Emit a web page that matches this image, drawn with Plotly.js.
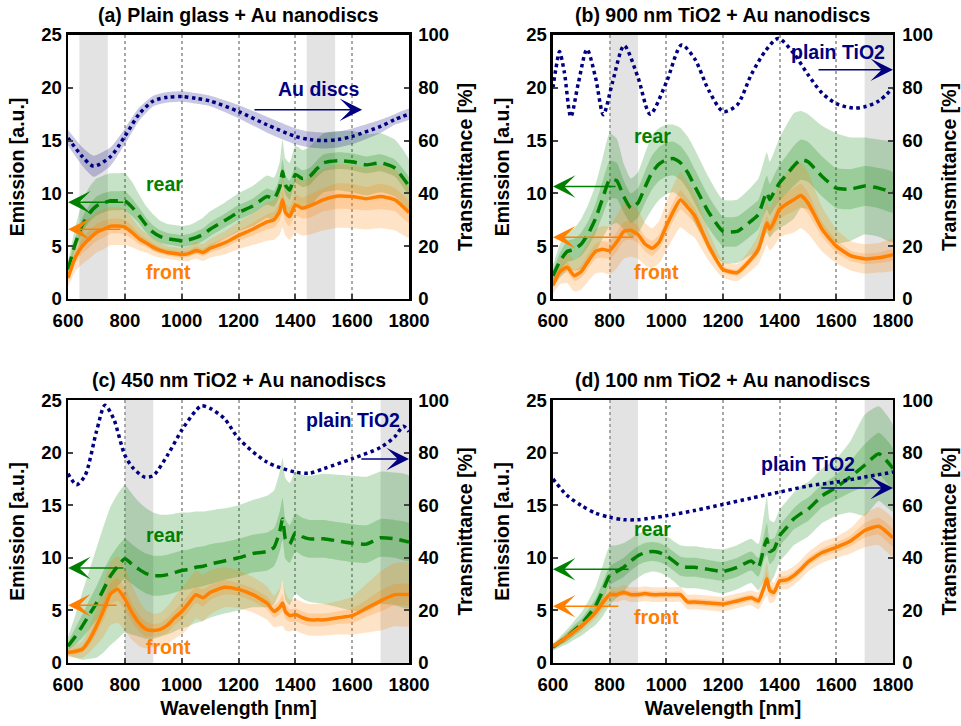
<!DOCTYPE html>
<html>
<head>
<meta charset="utf-8">
<script src="https://cdn.plot.ly/plotly-3.0.1.min.js"></script>
<style>html,body{margin:0;padding:0;background:#fff;}#chart{width:961px;height:726px;}</style>
</head>
<body>
<div id="chart"></div>
<script>
// ---------- shared wavelength grid for emission curves (nm) ----------
const wl = [600,625,650,675,700,725,750,775,800,825,850,875,900,925,950,975,1000,1025,1050,1075,1100,
            1150,1200,1250,1300,1325,1345,1355,1365,1380,1400,1425,1450,1475,1500,1550,1600,1650,1700,1750,1800];
const xTicks = [600,800,1000,1200,1400,1600,1800];

// ---------- (a) Plain glass + Au nanodiscs ----------
const aRear     = [2.8,5.2,7.0,8.1,8.8,9.1,9.3,9.3,9.3,8.7,7.9,7.0,6.3,5.9,5.7,5.6,5.5,5.6,5.8,6.1,6.6,7.4,8.2,8.8,9.7,9.5,10.6,12.1,10.8,10.3,11.8,11.4,11.6,12.3,12.9,13.1,13.0,12.7,12.9,12.4,10.7];
const aRearIn   = [0.3,0.5,0.7,0.8,0.9,0.9,0.9,0.9,0.9,0.85,0.75,0.7,0.65,0.6,0.55,0.55,0.55,0.55,0.6,0.6,0.65,0.65,0.7,0.7,0.75,0.75,0.9,1.1,0.9,0.9,0.8,0.8,0.8,0.8,0.8,0.8,0.8,0.8,0.8,0.8,0.8];
const aRearOut  = [0.8,1.5,2.2,2.5,2.6,2.6,2.6,2.6,2.6,2.4,2.0,1.8,1.7,1.5,1.4,1.4,1.4,1.4,1.5,1.6,1.7,1.7,1.8,1.9,2.0,2.0,2.4,3.0,2.5,2.6,2.7,2.7,2.8,2.8,2.8,2.8,2.9,2.9,2.8,2.7,2.5];
const aFront    = [2.0,3.9,5.0,5.7,6.3,6.6,6.9,6.9,6.8,6.3,5.7,5.3,4.9,4.6,4.4,4.3,4.2,4.3,4.6,4.4,4.8,5.3,6.0,6.6,7.3,7.5,8.3,9.4,8.2,7.8,8.9,8.6,8.8,9.1,9.4,9.75,9.7,9.5,9.7,9.4,8.2];
const aFrontIn  = [0.3,0.5,0.7,0.8,0.8,0.8,0.7,0.7,0.7,0.6,0.5,0.4,0.35,0.3,0.3,0.3,0.3,0.3,0.35,0.35,0.4,0.45,0.5,0.6,0.7,0.75,0.9,1.0,0.9,0.9,1.0,1.0,1.1,1.1,1.1,1.2,1.2,1.1,1.2,1.1,1.0];
const aFrontOut = [0.8,1.3,1.7,1.9,1.9,1.9,1.8,1.8,1.7,1.4,1.1,0.9,0.8,0.7,0.6,0.6,0.6,0.7,0.8,0.8,0.9,1.1,1.3,1.5,1.8,1.9,2.2,2.6,2.2,2.2,2.6,2.6,2.7,2.8,2.9,3.0,3.0,2.9,3.0,2.9,2.4];
const aTransWl  = [600,650,690,750,800,850,900,950,1000,1050,1100,1200,1300,1400,1450,1500,1550,1600,1700,1750,1800];
const aTrans    = [61,54,50.3,54,61.6,70,75,76.4,76.7,76,75,71,66,61.6,60.4,60,60.4,61.6,65.4,68,70];
const aTransSd  = [3,3.5,4,3.5,3,2.5,2,2,2,2,2,2.5,3,3,3,3,3,3,2.5,2,2];
const aShade    = [[640,740],[1440,1540]];

// ---------- (b) 900 nm TiO2 + Au nanodiscs ----------
const bRear     = [2.2,3.6,4.5,4.7,5.2,6.2,7.6,9.5,11.3,11.2,9.7,8.6,9.1,10.6,12.0,12.8,13.2,13.3,12.9,12.0,10.7,8.2,6.4,6.4,7.4,8.0,9.5,10.1,9.4,10.1,11.0,11.8,12.6,13.2,13.0,11.6,10.5,10.4,10.7,10.5,10.1];
const bRearIn   = [0.5,0.8,1.0,1.0,1.1,1.2,1.4,1.6,1.8,1.7,1.5,1.4,1.4,1.5,1.6,1.6,1.6,1.6,1.6,1.6,1.6,1.5,1.4,1.4,1.4,1.4,1.5,1.6,1.5,1.6,1.7,1.8,1.9,1.9,1.9,1.9,1.9,1.9,1.9,1.9,1.9];
const bRearOut  = [1.0,1.6,1.8,2.0,2.4,2.8,3.2,3.8,4.4,4.0,3.1,2.8,2.9,3.2,3.5,3.4,3.3,3.2,3.3,3.4,3.5,3.3,3.0,3.0,3.2,3.4,3.6,3.8,3.6,3.8,4.3,4.7,5.0,4.6,4.5,4.8,5.2,4.9,4.6,4.6,4.7];
const bFront    = [1.3,2.6,3.0,2.2,2.6,3.6,4.5,4.7,4.6,5.4,6.4,6.5,6.1,5.2,4.8,5.4,6.9,8.3,9.4,8.7,7.9,5.0,2.8,2.5,3.8,4.7,6.4,7.2,6.6,7.3,8.5,9.0,9.4,9.8,9.1,6.6,5.0,4.1,3.8,3.9,4.2];
const bFrontIn  = [0.3,0.4,0.5,0.5,0.6,0.7,0.7,0.8,0.8,0.9,0.9,0.9,0.8,0.7,0.7,0.7,0.8,0.9,0.9,0.8,0.7,0.5,0.3,0.3,0.4,0.5,0.7,0.7,0.7,0.8,0.9,1.0,1.1,1.1,1.0,0.7,0.6,0.5,0.5,0.5,0.5];
const bFrontOut = [0.8,1.2,1.5,1.5,1.7,1.9,2.1,2.2,2.3,2.5,2.6,2.5,2.3,2.0,1.9,2.0,2.3,2.5,2.6,2.4,2.1,1.4,0.8,0.8,1.1,1.4,1.9,2.1,2.0,2.3,2.7,2.9,3.1,3.1,2.9,2.1,1.6,1.4,1.4,1.4,1.5];
const bTransWl  = [600,610,623,640,663,690,720,750,778,810,851,900,943,1000,1054,1100,1150,1201,1250,1300,1350,1395,1450,1500,1550,1600,1659,1700,1750,1800];
const bTrans    = [80,87,93.7,86,69,82,94.6,84,69.8,82,96,84,70,82,96.2,91,79,71,73.5,85,94,98.7,93,85,78,74,72.3,72.8,75,79.9];
const bShade    = [[800,900],[1700,1800]];

// ---------- (c) 450 nm TiO2 + Au nanodiscs ----------
const cRear     = [1.6,2.5,3.5,4.6,5.7,7.0,8.3,9.2,9.9,9.4,8.9,8.5,8.3,8.3,8.4,8.6,8.8,8.9,9.1,9.2,9.4,9.7,10.0,10.4,10.6,11.0,12.5,13.7,11.8,11.3,12.4,12.0,11.8,11.8,11.8,11.6,11.4,11.3,11.9,11.8,11.5];
const cRearIn   = [0.4,0.8,1.1,1.4,1.6,1.8,1.8,1.9,1.9,1.9,1.9,1.9,1.9,1.9,1.9,1.9,1.9,1.9,1.9,1.9,1.9,1.8,1.8,1.8,1.8,1.8,1.9,2.0,1.9,1.8,1.8,1.8,1.8,1.8,1.8,1.8,1.8,1.8,1.8,1.8,1.8];
const cRearOut  = [0.9,2.0,3.2,4.2,5.2,6.0,6.6,6.9,7.0,6.7,6.4,6.2,6.0,5.8,5.7,5.6,5.5,5.4,5.3,5.2,5.1,5.0,5.0,5.1,5.3,5.4,5.7,5.8,5.8,5.8,5.8,5.9,6.0,6.1,6.2,6.3,6.4,6.4,6.3,6.3,6.3];
const cFront    = [1.0,1.1,1.3,2.2,3.5,5.0,6.6,7.0,6.1,4.8,3.8,3.2,3.1,3.2,3.6,4.3,4.9,5.7,6.5,6.2,6.7,7.2,7.0,6.5,5.7,4.9,5.3,5.7,4.9,4.5,4.6,4.3,4.1,4.1,4.1,4.3,4.5,5.2,5.9,6.5,6.5];
const cFrontIn  = [0.2,0.3,0.3,0.5,0.7,0.9,1.0,1.1,1.0,0.9,0.8,0.7,0.6,0.6,0.7,0.7,0.8,0.8,0.8,0.8,0.7,0.7,0.6,0.6,0.6,0.6,0.7,0.8,0.7,0.6,0.6,0.6,0.6,0.6,0.6,0.6,0.7,0.8,1.0,1.0,1.0];
const cFrontOut = [0.4,0.6,0.8,1.2,1.8,2.5,3.0,3.2,3.0,2.6,2.2,1.8,1.6,1.6,1.8,2.0,2.2,2.3,2.3,2.2,2.1,1.9,1.8,1.7,1.6,1.5,1.8,2.2,1.8,1.5,1.5,1.5,1.5,1.5,1.5,1.6,1.8,2.3,2.8,3.0,3.0];
const cTransWl  = [600,630,660,700,730,760,800,830,870,900,950,1000,1050,1070,1100,1150,1200,1300,1400,1450,1500,1600,1700,1750,1780,1800];
const cTrans    = [72,67.8,71.3,88,98,93,79,74,70.7,71.3,79,88.5,96,97.8,96.8,93,85.4,76.4,72.6,72.2,73.9,77.7,82,86,90,88];
const cShade    = [[800,900],[1700,1800]];

// ---------- (d) 100 nm TiO2 + Au nanodiscs ----------
const dRear     = [1.5,2.0,2.5,3.1,3.7,4.5,5.4,6.8,8.3,8.7,9.1,9.7,10.2,10.5,10.6,10.5,10.2,9.7,9.2,9.1,9.1,8.9,8.7,9.1,9.7,9.1,11.0,11.8,10.6,10.8,12.1,12.9,13.7,14.2,14.6,15.9,16.7,17.7,18.8,19.9,18.5];
const dRearIn   = [0.2,0.3,0.4,0.5,0.5,0.6,0.7,0.8,0.9,0.9,0.9,0.9,0.9,0.9,0.9,0.9,0.9,0.9,0.9,0.9,0.9,0.9,0.9,0.9,0.9,0.9,1.2,1.5,1.2,1.0,1.0,1.0,1.0,1.1,1.1,1.1,1.2,1.5,2.0,2.0,1.9];
const dRearOut  = [0.3,0.5,0.7,0.9,1.1,1.4,1.8,2.4,2.8,2.5,2.3,2.1,2.1,2.0,1.9,1.9,1.9,1.9,2.0,2.0,2.0,2.0,2.1,2.1,2.1,2.2,3.2,4.0,3.0,2.6,2.5,2.5,2.5,2.6,2.6,2.6,2.7,3.4,4.8,4.5,4.1];
const dFront    = [1.6,2.0,2.5,3.0,3.5,4.1,4.8,5.7,6.5,6.5,6.7,6.5,6.5,6.6,6.5,6.5,6.5,6.5,6.5,5.8,5.8,5.7,5.6,5.9,6.2,5.9,7.2,8.0,6.9,6.7,7.8,7.9,8.3,8.9,9.6,10.5,11.0,11.6,12.6,13.0,11.9];
const dFrontIn  = [0.1,0.15,0.2,0.2,0.2,0.2,0.3,0.3,0.3,0.3,0.3,0.3,0.3,0.3,0.3,0.3,0.3,0.3,0.3,0.3,0.3,0.3,0.3,0.3,0.3,0.35,0.5,0.6,0.5,0.4,0.4,0.4,0.4,0.4,0.4,0.4,0.45,0.5,0.7,0.8,0.8];
const dFrontOut = [0.3,0.3,0.4,0.4,0.5,0.5,0.6,0.7,0.7,0.7,0.7,0.7,0.7,0.7,0.7,0.7,0.7,0.7,0.7,0.7,0.7,0.7,0.7,0.7,0.7,0.8,1.2,1.6,1.2,0.9,0.9,0.9,0.9,0.9,0.9,1.0,1.0,1.2,1.6,1.8,1.8];
const dTransWl  = [600,650,700,750,800,850,900,1000,1100,1200,1300,1400,1500,1600,1700,1800];
const dTrans    = [70,63.7,59.9,57,55.4,54.5,54.5,56,58,60.3,62.7,65,67.3,68.8,70.7,72.6];
const dShade    = [[800,900],[1700,1800]];

// ---------- panel titles and labels ----------
const titles = ['(a) Plain glass + Au nanodiscs','(b) 900 nm TiO2 + Au nanodiscs',
                '(c) 450 nm TiO2 + Au nanodiscs','(d) 100 nm TiO2 + Au nanodiscs'];
const transLabels = ['Au discs','plain TiO2','plain TiO2','plain TiO2'];

// ---------- styling ----------
const FONT = 'Liberation Sans, Arial, sans-serif';
const GREEN = '#008000', ORANGE = '#ff8000', NAVY = '#000080';
const GREEN_BAND = 'rgba(0,128,0,0.22)', ORANGE_BAND = 'rgba(255,128,0,0.22)', NAVY_BAND = 'rgba(0,0,128,0.22)';
const TICK_FONT = {family:FONT, size:18.5, weight:'bold', color:'#000'};
const LABEL_FONT = {family:FONT, size:19.5, weight:'bold', color:'#000'};

const panels = [
  {xa:'x',  ya:'y',  ya2:'y2', rear:aRear, rIn:aRearIn, rOut:aRearOut, front:aFront, fIn:aFrontIn, fOut:aFrontOut, tw:aTransWl, t:aTrans, tsd:aTransSd, shade:aShade,
   xd:[0.0708,0.4256], yd:[0.5882,0.9518],
   rearTxt:[941,10.85], frontTxt:[952,2.55], tTxt:[1480,79.6], tArrow:[1251,1635,71.7], gArrow:[800,9.15], oArrow:[790,6.6]},
  {xa:'x2', ya:'y3', ya2:'y4', rear:bRear, rIn:bRearIn, rOut:bRearOut, front:bFront, fIn:bFrontIn, fOut:bFrontOut, tw:bTransWl, t:bTrans, tsd:null, shade:bShade,
   xd:[0.5754,0.9292], yd:[0.5882,0.9518],
   rearTxt:[953,15.4], frontTxt:[967,2.55], tTxt:[1606,93.6], tArrow:[1532,1800,86.8], gArrow:[826,10.66], oArrow:[889,5.85]},
  {xa:'x3', ya:'y5', ya2:'y6', rear:cRear, rIn:cRearIn, rOut:cRearOut, front:cFront, fIn:cFrontIn, fOut:cFrontOut, tw:cTransWl, t:cTrans, tsd:null, shade:cShade,
   xd:[0.0708,0.4256], yd:[0.0868,0.4490],
   rearTxt:[941,12.2], frontTxt:[952,1.5], tTxt:[1603,92.4], tArrow:[1627,1800,77.6], gArrow:[800,9.03], oArrow:[776,5.5]},
  {xa:'x4', ya:'y7', ya2:'y8', rear:dRear, rIn:dRearIn, rOut:dRearOut, front:dFront, fIn:dFrontIn, fOut:dFrontOut, tw:dTransWl, t:dTrans, tsd:null, shade:dShade,
   xd:[0.5754,0.9292], yd:[0.0868,0.4490],
   rearTxt:[953,12.7], frontTxt:[967,4.4], tTxt:[1500,75.7], tArrow:[1542,1800,66.5], gArrow:[872,8.9], oArrow:[836,5.4]}
];

function band(x, m, sd, xa, ya, color) {
  const up = m.map((v,i)=>v+sd[i]);
  const lo = m.map((v,i)=>v-sd[i]);
  return {x: x.concat(x.slice().reverse()), y: up.concat(lo.slice().reverse()),
          xaxis: xa, yaxis: ya, type:'scatter', mode:'lines', fill:'toself', fillcolor: color,
          line:{width:0, shape:'spline', smoothing:0.5}, hoverinfo:'skip', showlegend:false};
}

const traces = [];
const annotations = [];
const shapes = [];
const layout = {
  width: 961, height: 726,
  margin: {l:0, r:0, t:0, b:0},
  paper_bgcolor:'#ffffff', plot_bgcolor:'#ffffff',
  showlegend:false,
  font:{family:FONT, size:19, color:'#000'},
};

panels.forEach((p, k) => {
  // bands
  traces.push(band(wl, p.rear, p.rOut, p.xa, p.ya, GREEN_BAND));
  traces.push(band(wl, p.rear, p.rIn,  p.xa, p.ya, GREEN_BAND));
  traces.push(band(wl, p.front, p.fOut, p.xa, p.ya, ORANGE_BAND));
  traces.push(band(wl, p.front, p.fIn,  p.xa, p.ya, ORANGE_BAND));
  // mean lines
  traces.push({x: wl, y: p.rear, xaxis:p.xa, yaxis:p.ya, type:'scatter', mode:'lines', name:'rear',
               line:{color:GREEN, width:3.5, dash:'13px,7px', shape:'spline', smoothing:0.5}});
  traces.push({x: wl, y: p.front, xaxis:p.xa, yaxis:p.ya, type:'scatter', mode:'lines', name:'front',
               line:{color:ORANGE, width:3.5, shape:'spline', smoothing:0.5}});
  // transmittance
  if (p.tsd) traces.push(band(p.tw, p.t, p.tsd, p.xa, p.ya2, NAVY_BAND));
  traces.push({x: p.tw, y: p.t, xaxis:p.xa, yaxis:p.ya2, type:'scatter', mode:'lines', name:transLabels[k],
               line:{color:NAVY, width:3.5, dash:'dot', shape:'spline', smoothing:0.8}});

  const xName = 'xaxis' + (k === 0 ? '' : (k+1));
  const yName = 'yaxis' + (k === 0 ? '' : (2*k+1));
  const y2Name = 'yaxis' + (2*k+2);
  const bottom = k >= 2;
  layout[xName] = {
    domain: p.xd, anchor: p.ya, range:[600,1800], tickvals:xTicks, ticks:'inside', ticklen:5, tickwidth:2,
    showline:true, linewidth:2.5, linecolor:'#000', mirror:true, zeroline:false,
    showgrid:true, gridcolor:'#a8a8a8', griddash:'dot', gridwidth:2,
    tickfont:TICK_FONT, ticklabelstandoff:3,
    title: bottom ? {text:'Wavelength [nm]', font:LABEL_FONT, standoff:8} : {text:''}
  };
  layout[yName] = {
    domain: p.yd, anchor: p.xa, range:[0,25], tickvals:[0,5,10,15,20,25], ticks:'inside', ticklen:5, tickwidth:2,
    showline:true, linewidth:2.5, linecolor:'#000', mirror:true, zeroline:false, showgrid:false,
    tickfont:TICK_FONT,
    title:{text:'Emission [a.u.]', font:LABEL_FONT, standoff:12}
  };
  layout[y2Name] = {
    overlaying: p.ya, anchor: p.xa, side:'right', range:[0,100], tickvals:[0,20,40,60,80,100], ticks:'inside', ticklen:5, tickwidth:2,
    showline:true, linewidth:2.5, linecolor:'#000', zeroline:false, showgrid:false,
    tickfont:TICK_FONT, ticklabelstandoff:3,
    title:{text:'Transmittance [%]', font:LABEL_FONT, standoff:11}
  };

  // shaded wavelength windows
  p.shade.forEach(s => shapes.push({type:'rect', xref:p.xa, yref:p.ya + ' domain', x0:s[0], x1:s[1], y0:0, y1:1,
                                    fillcolor:'#e3e3e3', line:{width:0}, layer:'below'}));

  // panel title
  annotations.push({xref:'paper', yref:'paper', x:(p.xd[0]+p.xd[1])/2, y: p.yd[1] + 0.028, xanchor:'center', yanchor:'middle',
                    text:titles[k], showarrow:false, font:LABEL_FONT});
  // curve labels
  annotations.push({xref:p.xa, yref:p.ya, x:p.rearTxt[0], y:p.rearTxt[1], xanchor:'center', text:'rear', showarrow:false,
                    font:{family:FONT, size:19.5, weight:'bold', color:GREEN}});
  annotations.push({xref:p.xa, yref:p.ya, x:p.frontTxt[0], y:p.frontTxt[1], xanchor:'center', text:'front', showarrow:false,
                    font:{family:FONT, size:19.5, weight:'bold', color:ORANGE}});
  annotations.push({xref:p.xa, yref:p.ya2, x:p.tTxt[0], y:p.tTxt[1], xanchor:'center', text:transLabels[k], showarrow:false,
                    font:{family:FONT, size:19.5, weight:'bold', color:NAVY}});
  // arrows pointing to the relevant axis
  annotations.push({xref:p.xa, yref:p.ya2, axref:p.xa, ayref:p.ya2, x:p.tArrow[1], y:p.tArrow[2], ax:p.tArrow[0], ay:p.tArrow[2],
                    text:'', showarrow:true, arrowhead:3, arrowsize:2.5, arrowwidth:1.5, arrowcolor:NAVY});
  annotations.push({xref:p.xa, yref:p.ya, axref:p.xa, ayref:p.ya, x:600, y:p.gArrow[1], ax:p.gArrow[0], ay:p.gArrow[1],
                    text:'', showarrow:true, arrowhead:3, arrowsize:2.5, arrowwidth:1.5, arrowcolor:GREEN});
  annotations.push({xref:p.xa, yref:p.ya, axref:p.xa, ayref:p.ya, x:600, y:p.oArrow[1], ax:p.oArrow[0], ay:p.oArrow[1],
                    text:'', showarrow:true, arrowhead:3, arrowsize:2.5, arrowwidth:1.5, arrowcolor:ORANGE});
});

layout.shapes = shapes;
layout.annotations = annotations;

Plotly.newPlot('chart', traces, layout, {displayModeBar:false, staticPlot:true});
</script>
</body>
</html>
